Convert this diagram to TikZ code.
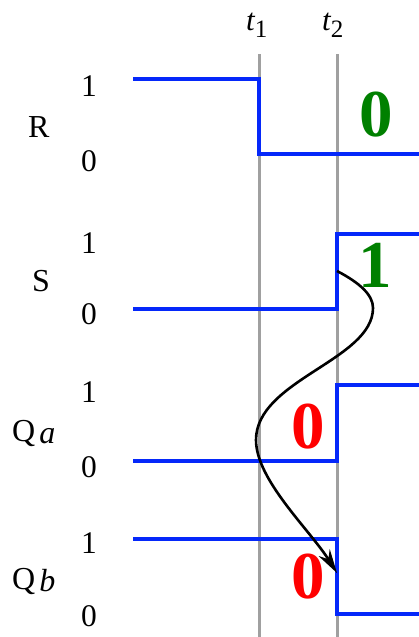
\documentclass[tikz,border=0pt]{standalone}
\usepackage{fontspec}
\setmainfont{Liberation Serif}
\usetikzlibrary{arrows.meta}
\definecolor{sigblue}{RGB}{5,40,250}
\definecolor{gridgray}{RGB}{160,160,160}
\definecolor{dkgreen}{RGB}{0,128,0}
\tikzset{
  gridline/.style={draw=gridgray,line width=3pt},
  wave/.style={draw=sigblue,line width=4pt,line join=miter},
  lvl/.style={inner sep=0pt,anchor=base,font=\fontsize{31.5}{36}\selectfont},
  sig/.style={inner sep=0pt,anchor=base west,font=\fontsize{32}{36}\selectfont},
  big/.style={inner sep=0pt,anchor=base,font=\fontsize{67}{70}\selectfont\bfseries},
  tlab/.style={inner sep=0pt,anchor=base west,font=\fontsize{31}{36}\selectfont},
  causal/.style={draw=black,line width=2.6pt,-{Stealth[length=24pt,width=13pt]}}
}
\begin{document}
\begin{tikzpicture}[x=1pt,y=-1pt]
\useasboundingbox (0,0) rectangle (419,637);
% time markers
\coordinate (t1top) at (259,54);
\coordinate (t1bot) at (259,637);
\coordinate (t2top) at (337,54);
\coordinate (t2bot) at (337,637);
\draw[gridline] (t1top) -- (t1bot);
\draw[gridline] (t2top) -- (t2bot);
\node[tlab] (t1) at (246,30) {\itshape t\raisebox{-8pt}{\upshape\fontsize{25}{25}\selectfont 1}};
\node[tlab] (t2) at (322,30) {\itshape t\raisebox{-8pt}{\upshape\fontsize{25}{25}\selectfont 2}};
% waveforms
\draw[wave] (133,79) -- (259,79) -- (259,154) -- (419,154);
\draw[wave] (133,309) -- (337,309) -- (337,234) -- (419,234);
\draw[wave] (133,461) -- (337,461) -- (337,385) -- (419,385);
\draw[wave] (133,539) -- (337,539) -- (337,614) -- (419,614);
% signal names
\node[sig] (R) at (28,137) {R};
\node[sig] (S) at (32,291) {S};
\node[sig] (Qa) at (12,441) {Q\kern4pt\raisebox{-2pt}{\itshape a}};
\node[sig] (Qb) at (12,589) {Q\kern4pt\raisebox{-2pt}{\itshape b}};
% levels
\node[lvl] (R1) at (89,96) {1};
\node[lvl] (R0) at (89,171) {0};
\node[lvl] (S1) at (89,253) {1};
\node[lvl] (S0) at (89,324) {0};
\node[lvl] (Qa1) at (89,402) {1};
\node[lvl] (Qa0) at (89,477) {0};
\node[lvl] (Qb1) at (89,553) {1};
\node[lvl] (Qb0) at (89,626) {0};
% big values
\node[big,text=dkgreen] (vR) at (376,136) {0};
\node[big,text=dkgreen] (vS) at (375,287) {1};
\node[big,text=red] (vQa) at (308,448) {0};
\node[big,text=red] (vQb) at (308,598) {0};
% causal arrow
\coordinate (cs) at (337,271);
\coordinate (cm1) at (373,308);
\coordinate (cm2) at (256,440);
\coordinate (ce) at (337,573);
\draw[causal] (cs) .. controls (360,283) and (373,295) .. (cm1)
  .. controls (373,360) and (256,380) .. (cm2)
  .. controls (256,480) and (310,530) .. (ce);
\end{tikzpicture}
\end{document}
